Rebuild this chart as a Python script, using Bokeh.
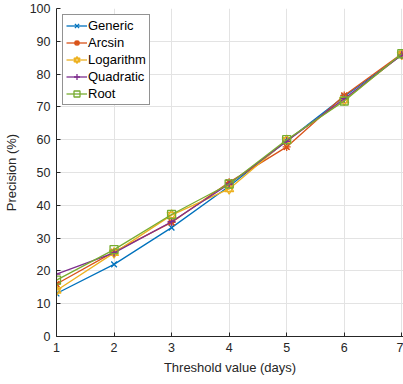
from bokeh.plotting import figure
from bokeh.models import Legend, LegendItem, Range1d, FixedTicker
from bokeh.embed import file_html
from bokeh.resources import INLINE

x = [1, 2, 3, 4, 5, 6, 7]
generic = [13.1, 22.0, 33.2, 45.8, 59.6, 73.2, 85.8]
arcsin = [16.0, 25.8, 34.8, 47.0, 57.8, 73.5, 86.2]
logarithm = [14.0, 25.5, 37.0, 45.0, 59.8, 72.0, 86.0]
quadratic = [19.0, 25.5, 35.0, 46.5, 59.5, 72.5, 85.8]
root = [17.2, 26.5, 37.2, 46.5, 60.0, 71.8, 86.2]

series = [
    ("Generic", generic, "#0072BD", ["x"]),
    ("Arcsin", arcsin, "#D95319", ["asterisk", "x"]),
    ("Logarithm", logarithm, "#EDB120", ["triangle", "inverted_triangle"]),
    ("Quadratic", quadratic, "#7E2F8E", ["cross"]),
    ("Root", root, "#77AC30", ["square"]),
]

FONT = "Liberation Sans"
DARK = "#262626"

p = figure(width=403, height=384, output_backend="svg", toolbar_location=None,
           x_range=Range1d(1, 7.03), y_range=Range1d(0, 100),
           min_border_left=53, min_border_right=0, min_border_top=8, min_border_bottom=48)
p.outline_line_color = None
p.background_fill_color = "white"

items = []
for name, vals, col, markers in series:
    r_line = p.line(x, vals, line_color=col, line_width=1.3)
    rs = [r_line]
    for m in markers:
        sz = 8
        if m in ("triangle", "inverted_triangle"):
            sz = 9
        rm = p.scatter(x, vals, marker=m, size=sz, line_color=col,
                       fill_color=None, line_width=1.3)
        rs.append(rm)
    items.append(LegendItem(label=name, renderers=rs))

legend = Legend(items=items, location="top_left")
legend.label_text_font = FONT
legend.label_text_font_size = "13px"
legend.label_text_color = "black"
legend.glyph_width = 21
legend.glyph_height = 15
legend.label_height = 15
legend.spacing = 2
legend.padding = 3
legend.margin = 6
legend.label_standoff = 1
legend.border_line_color = DARK
legend.border_line_width = 1
legend.background_fill_alpha = 1
p.add_layout(legend)

for ax in (p.xaxis, p.yaxis):
    ax.axis_line_color = DARK
    ax.major_tick_line_color = DARK
    ax.major_tick_in = 4
    ax.major_tick_out = 0
    ax.minor_tick_line_color = None
    ax.major_label_text_font = FONT
    ax.major_label_text_font_size = "12.5px"
    ax.major_label_text_color = DARK
    ax.axis_label_text_font = FONT
    ax.axis_label_text_font_size = "13px"
    ax.axis_label_text_font_style = "normal"
    ax.axis_label_text_color = DARK

p.xaxis.ticker = FixedTicker(ticks=x)
p.yaxis.ticker = FixedTicker(ticks=list(range(0, 101, 10)))
p.xaxis.axis_label = "Threshold value (days)"
p.yaxis.axis_label = "Precision (%)"
p.xaxis.major_label_standoff = 6
p.yaxis.major_label_standoff = 6
p.xaxis.axis_label_standoff = 5
p.yaxis.axis_label_standoff = 8

p.grid.grid_line_color = "#e3e3e3"
p.grid.grid_line_width = 1

open("out.html", "w").write(file_html(p, INLINE))
